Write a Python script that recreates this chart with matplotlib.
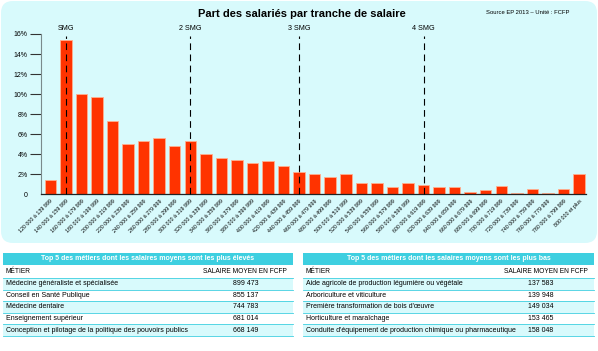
import matplotlib
matplotlib.use("Agg")
import matplotlib.pyplot as plt
from matplotlib.patches import FancyBboxPatch, Rectangle

plt.rcParams['font.family'] = ['Liberation Sans', 'DejaVu Sans']

# ---------------- data ----------------
categories = [
    "120 000 à 139 999", "140 000 à 159 999", "160 000 à 179 999", "180 000 à 199 999",
    "200 000 à 219 999", "220 000 à 239 999", "240 000 à 259 999", "260 000 à 279 999",
    "280 000 à 299 999", "300 000 à 319 999", "320 000 à 339 999", "340 000 à 359 999",
    "360 000 à 379 999", "380 000 à 399 999", "400 000 à 419 999", "420 000 à 439 999",
    "440 000 à 459 999", "460 000 à 479 999", "480 000 à 499 999", "500 000 à 519 999",
    "520 000 à 539 999", "540 000 à 559 999", "560 000 à 579 999", "580 000 à 599 999",
    "600 000 à 619 999", "620 000 à 639 999", "640 000 à 659 999", "660 000 à 679 999",
    "680 000 à 699 999", "700 000 à 719 999", "720 000 à 739 999", "740 000 à 759 999",
    "760 000 à 779 999", "780 000 à 799 999", "800 000 et plus",
]
shares = [1.4, 15.4, 10.0, 9.7, 7.3, 5.0, 5.3, 5.6, 4.8, 5.3,
          4.0, 3.6, 3.4, 3.1, 3.3, 2.8, 2.2, 2.0, 1.75, 2.0,
          1.1, 1.1, 0.75, 1.1, 0.95, 0.75, 0.75, 0.25, 0.45, 0.85,
          0.15, 0.55, 0.15, 0.55, 2.0]
smg_labels = ["SMG", "2 SMG", "3 SMG", "4 SMG"]
smg_index = [1, 9, 16, 24]
ytick_values = [0, 2, 4, 6, 8, 10, 12, 14, 16]
ytick_labels = ["0", "2%", "4%", "6%", "8%", "10%", "12%", "14%", "16%"]

title = "Part des salariés par tranche de salaire"
source = "Source EP 2013 – Unité : FCFP"

top_title = "Top 5 des métiers dont les salaires moyens sont les plus élevés"
top_jobs = ["Médecine généraliste et spécialisée", "Conseil en Santé Publique",
            "Médecine dentaire", "Enseignement supérieur",
            "Conception et pilotage de la politique des pouvoirs publics"]
top_salaries = ["899 473", "855 137", "744 783", "681 014", "668 149"]

low_title = "Top 5 des métiers dont les salaires moyens sont les plus bas"
low_jobs = ["Aide agricole de production légumière ou végétale", "Arboriculture et viticulture",
            "Première transformation de bois d'œuvre", "Horticulture et maraîchage",
            "Conduite d'équipement de production chimique ou pharmaceutique"]
low_salaries = ["137 583", "139 948", "149 034", "153 465", "158 048"]
col_headers = ["MÉTIER", "SALAIRE MOYEN EN FCFP"]

# ---------------- style ----------------
W, H = 598, 351
PANEL = "#d8fafc"
CYAN = "#3ecfe0"
ROW = "#d8fafc"
BAR = "#ff3300"
BAR_EDGE = "#ffb08f"

fig = plt.figure(figsize=(W / 100, H / 100), dpi=100)
fig.patch.set_facecolor("white")

# background axes in pixel coordinates
bg = fig.add_axes([0, 0, 1, 1], zorder=0)
bg.set_xlim(0, W)
bg.set_ylim(H, 0)
bg.axis("off")
bg.add_patch(FancyBboxPatch((1, 1), W - 2, 242, boxstyle="round,pad=0,rounding_size=12",
                            facecolor=PANEL, edgecolor="none"))
bg.text(302, 14, title, ha="center", va="center", fontsize=8, fontweight="bold")
bg.text(528, 13, source, ha="center", va="center", fontsize=4.2)


def draw_table(x0, x1, val_cx, hdr_x, header, jobs, salaries):
    bg.add_patch(Rectangle((x0, 252.5), x1 - x0, 12.5, facecolor=CYAN, edgecolor="none"))
    bg.text((x0 + x1) / 2, 258.8, header, ha="center", va="center", fontsize=5,
            fontweight="bold", color="white")
    bg.text(x0 + 3, 271.5, col_headers[0], ha="left", va="center", fontsize=4.8)
    bg.text(hdr_x, 271.5, col_headers[1], ha="center", va="center", fontsize=4.8)
    rh = 11.6
    for i, (job, sal) in enumerate(zip(jobs, salaries)):
        y = 278 + i * rh
        fc = ROW if i % 2 == 0 else "white"
        bg.add_patch(Rectangle((x0, y), x1 - x0, rh, facecolor=fc, edgecolor="none"))
        bg.plot([x0, x1], [y, y], color=CYAN, lw=0.6)
        bg.text(x0 + 3, y + rh / 2, job, ha="left", va="center", fontsize=5)
        bg.text(val_cx, y + rh / 2, sal, ha="center", va="center", fontsize=5)
    bg.plot([x0, x1], [278 + 5 * rh, 278 + 5 * rh], color=CYAN, lw=0.6)


draw_table(3, 293, 246, 245, top_title, top_jobs, top_salaries)
draw_table(303, 594, 541, 546, low_title, low_jobs, low_salaries)

# ---------------- chart ----------------
ax = fig.add_axes([41 / W, 1 - 194.3 / H, (586 - 41) / W, (194.3 - 34) / H], zorder=2)
ax.set_facecolor("none")
x = list(range(len(categories)))
ax.bar(x, shares, width=0.74, color=BAR, edgecolor=BAR_EDGE, linewidth=0.6, zorder=2)
ax.set_xlim(-0.6, len(categories) - 0.55)
ax.set_ylim(0, 16)

for lab, idx in zip(smg_labels, smg_index):
    ax.plot([idx, idx], [0, 15.8], color="black", lw=0.8, ls=(0, (6, 4)), zorder=3,
            clip_on=False)
    ax.text(idx, 16.2, lab, ha="center", va="bottom", fontsize=5.2)

ax.set_yticks(ytick_values)
ax.set_yticklabels(ytick_labels, fontsize=5)
ax.tick_params(axis="y", length=8, width=0.8, color="#333333", pad=1.5)
ax.yaxis.get_major_ticks()[0].tick1line.set_visible(False)
ax.set_xticks(x)
ax.set_xticklabels(categories, rotation=45, ha="right", rotation_mode="anchor",
                   fontsize=3.8)
ax.tick_params(axis="x", length=0, pad=3)

for s in ["top", "right"]:
    ax.spines[s].set_visible(False)
ax.spines["left"].set_color("#7a8a8c")
ax.spines["left"].set_linewidth(0.8)
ax.spines["bottom"].set_color("#222222")
ax.spines["bottom"].set_linewidth(0.9)

fig.savefig("out.png", dpi=100, facecolor="white")
